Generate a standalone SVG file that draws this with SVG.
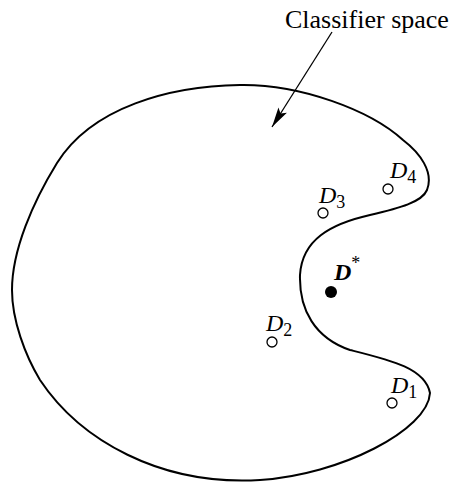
<svg xmlns="http://www.w3.org/2000/svg" width="452" height="484" viewBox="0 0 452 484">
<style>
.bnd{fill:none;stroke:#000;stroke-width:2}
.pt{fill:#fff;stroke:#000;stroke-width:1.3}
.lbl{font-family:"Liberation Serif","Times New Roman",serif;font-style:italic;font-size:24px;fill:#000}
.sub{font-family:"Liberation Serif","Times New Roman",serif;font-style:normal;font-size:18px;fill:#000}
.ttl{font-family:"Liberation Serif","Times New Roman",serif;font-size:26px;fill:#000}
</style>
<defs>
<marker id="ah" markerWidth="22" markerHeight="12" refX="20" refY="6" orient="auto" markerUnits="userSpaceOnUse">
<path d="M0,1 L20,6 L0,11 L4,6 Z" fill="#000"/>
</marker>
</defs>
<g id="space">
<path class="bnd" d="M240,85 C300,84 370,110 403,140 C420,153 434,172 427,190 C422,202 400,208 370,215 C330,224 302,240 300,275 C299,310 315,338 350,350 C390,360 425,368 430,393 C428,430 340,475 260,480 C160,486 80,440 40,380 C25,355 12,320 12,290 C12,250 33,202 57,163 C92,107 170,86 240,85 Z"/>
</g>
<g id="title">
<text class="ttl" x="285" y="28">Classifier space</text>
</g>
<g id="connectors">
<line x1="332" y1="32" x2="272" y2="127" stroke="#000" stroke-width="1.3" marker-end="url(#ah)"/>
</g>
<g id="D4">
<circle class="pt" cx="388" cy="189" r="5"/>
<text class="lbl" x="390" y="178">D<tspan class="sub" dy="5">4</tspan></text>
</g>
<g id="D3">
<circle class="pt" cx="323" cy="213" r="5"/>
<text class="lbl" x="319" y="203">D<tspan class="sub" dy="5">3</tspan></text>
</g>
<g id="Dstar">
<circle cx="331" cy="292" r="6" fill="#000"/>
<text class="lbl" x="334" y="280" font-weight="bold">D<tspan class="sub" font-weight="normal" font-size="15" dy="-11">*</tspan></text>
</g>
<g id="D2">
<circle class="pt" cx="272" cy="342" r="5"/>
<text class="lbl" x="266" y="331">D<tspan class="sub" dy="5">2</tspan></text>
</g>
<g id="D1">
<circle class="pt" cx="392" cy="403" r="5"/>
<text class="lbl" x="391" y="393">D<tspan class="sub" dy="5">1</tspan></text>
</g>
</svg>
